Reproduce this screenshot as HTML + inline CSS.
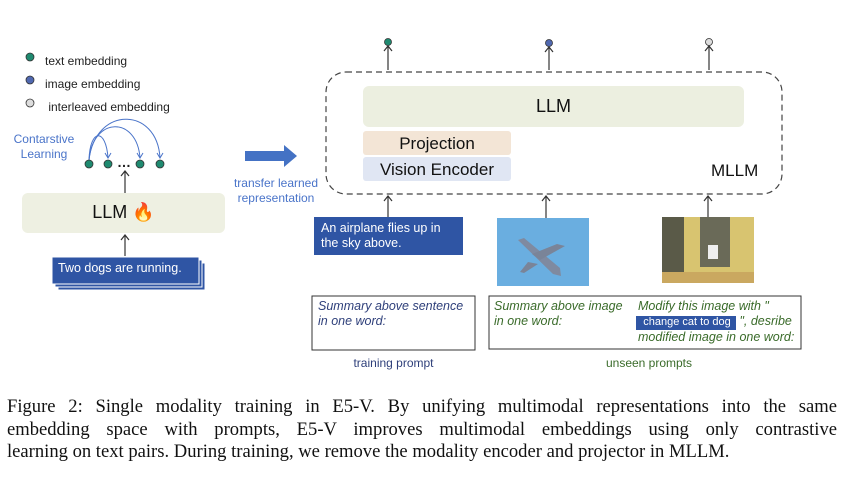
<!DOCTYPE html>
<html><head><style>
body{margin:0;width:844px;height:477px;background:#fff;position:relative;overflow:hidden;font-family:"Liberation Sans",sans-serif}
.a{position:absolute}
.cap{position:absolute;left:7px;width:830px;font-family:"Liberation Serif",serif;font-size:18.6px;line-height:22.5px;text-align:justify;text-align-last:justify;color:#111}
</style></head><body>
<svg class="a" style="left:0;top:0" width="844" height="477">
<!-- legend -->
<circle cx="30" cy="57" r="4" fill="#1f8a70" stroke="#333" stroke-width="0.8"/>
<circle cx="30" cy="80" r="4" fill="#5068b0" stroke="#333" stroke-width="0.8"/>
<circle cx="30" cy="103" r="4" fill="#ddd" stroke="#333" stroke-width="0.8"/>
<!-- contrastive arcs -->
<g fill="none" stroke="#4a74c9" stroke-width="1">
<path d="M89,160 C90,128 106,128 108,158"/>
<path d="M89,160 C93,116 137,116 140,158"/>
<path d="M89,160 C95,106 157,106 160,158"/>
<path d="M105,153 L108,158 L111,153"/>
<path d="M137,153 L140,158 L143,153"/>
<path d="M157,153 L160,158 L163,153"/>
</g>
<circle cx="89" cy="164" r="4" fill="#1f8a70" stroke="#333" stroke-width="0.8"/>
<circle cx="108" cy="164" r="4" fill="#1f8a70" stroke="#333" stroke-width="0.8"/>
<circle cx="140" cy="164" r="4" fill="#1f8a70" stroke="#333" stroke-width="0.8"/>
<circle cx="160" cy="164" r="4" fill="#1f8a70" stroke="#333" stroke-width="0.8"/>
<text x="117" y="167" font-size="14" font-weight="bold" fill="#222">…</text>
<g fill="none" stroke="#333" stroke-width="1.2">
<line x1="125" y1="193" x2="125" y2="171"/><path d="M121,176 L125,171 L129,176"/>
<line x1="125" y1="256" x2="125" y2="235"/><path d="M121,240 L125,235 L129,240"/>
<line x1="388" y1="70" x2="388" y2="46"/><path d="M384,51 L388,46 L392,51"/>
<line x1="549" y1="70" x2="549" y2="47"/><path d="M545,52 L549,47 L553,52"/>
<line x1="709" y1="70" x2="709" y2="46"/><path d="M705,51 L709,46 L713,51"/>
<line x1="388" y1="217" x2="388" y2="196"/><path d="M384,201 L388,196 L392,201"/>
<line x1="546" y1="218" x2="546" y2="196"/><path d="M542,201 L546,196 L550,201"/>
<line x1="708" y1="217" x2="708" y2="196"/><path d="M704,201 L708,196 L712,201"/>
</g>
<rect x="22" y="193" width="203" height="40" rx="6" fill="#eef0e2"/>
<rect x="58" y="263" width="147" height="27" fill="#2f55a4" stroke="#fff" stroke-width="1"/>
<rect x="55" y="260" width="147" height="27" fill="#2f55a4" stroke="#fff" stroke-width="1"/>
<rect x="52" y="257" width="147" height="27" fill="#2f55a4" stroke="#fff" stroke-width="1"/>
<!-- blue arrow -->
<path d="M245,151 L284,151 L284,145 L297,156 L284,167 L284,161 L245,161 Z" fill="#4472c4"/>
<!-- MLLM -->
<rect x="326" y="72" width="456" height="122" rx="20" fill="none" stroke="#444" stroke-width="1.2" stroke-dasharray="6,4"/>
<rect x="363" y="86" width="381" height="41" rx="6" fill="#ecefe0"/>
<rect x="363" y="131" width="148" height="24" rx="3" fill="#f3e5d6"/>
<rect x="363" y="157" width="148" height="24" rx="3" fill="#e0e6f3"/>
<circle cx="388" cy="42" r="3.5" fill="#1f8a70" stroke="#333" stroke-width="0.8"/>
<circle cx="549" cy="43" r="3.5" fill="#5068b0" stroke="#333" stroke-width="0.8"/>
<circle cx="709" cy="42" r="3.5" fill="#ddd" stroke="#333" stroke-width="0.8"/>
<rect x="314" y="217" width="149" height="38" fill="#2f55a4"/>
<!-- images -->
<rect x="497" y="218" width="92" height="68" fill="#6aaee0"/>
<path d="M518,240 L524,238 L560,268 L561,276 L553,274 Z" fill="#7f8aa0"/>
<path d="M532,254 L557,244 L565,246 L540,260 Z" fill="#7a8498"/>
<path d="M528,262 L520,272 L524,273 L538,264 Z" fill="#7a8498"/>
<rect x="662" y="217" width="92" height="66" fill="#d8c470"/>
<rect x="662" y="217" width="22" height="58" fill="#5a5a48"/>
<rect x="700" y="217" width="30" height="50" fill="#6a6a58"/>
<rect x="708" y="245" width="10" height="14" fill="#eee"/>
<rect x="662" y="272" width="92" height="11" fill="#caa860"/>
<rect x="312" y="296" width="163" height="54" fill="none" stroke="#333" stroke-width="1"/>
<rect x="489" y="296" width="312" height="53" fill="none" stroke="#333" stroke-width="1"/>
<rect x="636" y="316" width="100" height="14" fill="#2f55a4"/>
</svg>
<div class="a" style="left:45px;top:50px;font-size:12px;color:#222;line-height:23px">text embedding<br>image embedding<br>&nbsp;interleaved embedding</div>
<div class="a" style="left:10px;top:132px;width:68px;text-align:center;font-size:12px;line-height:15px;color:#4a74c9">Contarstive Learning</div>
<div class="a" style="left:22px;top:202px;width:203px;text-align:center;font-size:18px;color:#111">LLM <span style="color:#f06a1c">🔥</span></div>
<div class="a" style="left:58px;top:261px;font-size:12.5px;color:#fff">Two dogs are running.</div>
<div class="a" style="left:226px;top:176px;width:100px;text-align:center;font-size:12px;line-height:15px;color:#4a74c9">transfer learned representation</div>
<div class="a" style="left:363px;top:96px;width:381px;text-align:center;font-size:18px;color:#111">LLM</div>
<div class="a" style="left:363px;top:134px;width:148px;text-align:center;font-size:17px;color:#111">Projection</div>
<div class="a" style="left:363px;top:160px;width:148px;text-align:center;font-size:17px;color:#111">Vision Encoder</div>
<div class="a" style="left:711px;top:161px;font-size:17px;color:#111">MLLM</div>
<div class="a" style="left:321px;top:221px;font-size:12.5px;line-height:15px;color:#fff">An airplane flies up in<br>the sky above.</div>
<div class="a" style="left:318px;top:299px;font-size:12.5px;line-height:15px;font-style:italic;color:#2e3f7a">Summary above sentence<br>in one word:</div>
<div class="a" style="left:494px;top:299px;font-size:12.5px;line-height:15px;font-style:italic;color:#3a6b2a">Summary above image<br>in one word:</div>
<div class="a" style="left:638px;top:299px;font-size:12.5px;line-height:15px;font-style:italic;color:#3a6b2a;white-space:nowrap">Modify this image with "<br><span style="font-style:normal;color:#fff;font-size:11px;display:inline-block;width:98px;text-align:center">change cat to dog</span> ", desribe<br>modified image in one word:</div>
<div class="a" style="left:312px;top:356px;width:163px;text-align:center;font-size:12px;color:#2e3f7a">training prompt</div>
<div class="a" style="left:489px;top:356px;width:320px;text-align:center;font-size:12px;color:#3a6b2a">unseen prompts</div>
<div class="cap" style="top:396px">Figure 2: Single modality training in E5-V. By unifying multimodal representations into the same</div>
<div class="cap" style="top:419px">embedding space with prompts, E5-V improves multimodal embeddings using only contrastive</div>
<div class="cap" style="top:441px;text-align-last:left;width:auto">learning on text pairs. During training, we remove the modality encoder and projector in MLLM.</div>
</body></html>
